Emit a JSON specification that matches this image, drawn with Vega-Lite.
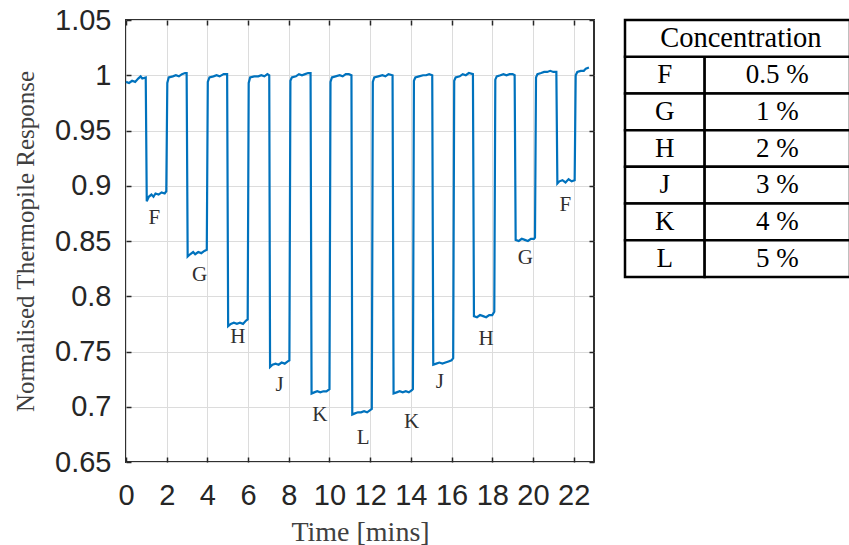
{
  "$schema": "https://vega.github.io/schema/vega-lite/v6.json",
  "background": "white",
  "padding": {"left": 12, "top": 5, "right": 0, "bottom": 0},
  "spacing": 27,
  "config": {"view": {"stroke": null}},
  "hconcat": [
    {
      "width": 468,
      "height": 442,
      "view": {"stroke": "#303030", "strokeWidth": 2},
      "layer": [
        {
          "data": {"values": [
            {"t": 0.00, "v": 0.994}, {"t": 0.15, "v": 0.993}, {"t": 0.30, "v": 0.995}, {"t": 0.45, "v": 0.994},
            {"t": 0.60, "v": 0.997}, {"t": 0.72, "v": 0.999}, {"t": 0.80, "v": 0.997}, {"t": 0.97, "v": 0.998},
            {"t": 1.02, "v": 0.886}, {"t": 1.12, "v": 0.890}, {"t": 1.25, "v": 0.892}, {"t": 1.35, "v": 0.890},
            {"t": 1.45, "v": 0.893}, {"t": 1.60, "v": 0.892}, {"t": 1.75, "v": 0.894}, {"t": 1.90, "v": 0.893},
            {"t": 1.98, "v": 0.895}, {"t": 2.03, "v": 0.993}, {"t": 2.10, "v": 0.998}, {"t": 2.30, "v": 0.999},
            {"t": 2.45, "v": 1.000}, {"t": 2.60, "v": 0.999}, {"t": 2.75, "v": 1.001}, {"t": 2.90, "v": 1.002},
            {"t": 2.98, "v": 1.002}, {"t": 3.03, "v": 0.836}, {"t": 3.15, "v": 0.838}, {"t": 3.30, "v": 0.840},
            {"t": 3.40, "v": 0.838}, {"t": 3.55, "v": 0.840}, {"t": 3.70, "v": 0.839}, {"t": 3.85, "v": 0.841},
            {"t": 3.97, "v": 0.842}, {"t": 4.02, "v": 0.994}, {"t": 4.10, "v": 0.998}, {"t": 4.30, "v": 0.999},
            {"t": 4.45, "v": 1.000}, {"t": 4.60, "v": 0.999}, {"t": 4.80, "v": 1.001}, {"t": 4.97, "v": 1.001},
            {"t": 5.02, "v": 0.773}, {"t": 5.15, "v": 0.775}, {"t": 5.30, "v": 0.776}, {"t": 5.45, "v": 0.775},
            {"t": 5.60, "v": 0.776}, {"t": 5.75, "v": 0.775}, {"t": 5.90, "v": 0.778}, {"t": 5.98, "v": 0.779},
            {"t": 6.03, "v": 0.993}, {"t": 6.10, "v": 0.998}, {"t": 6.30, "v": 0.999}, {"t": 6.50, "v": 0.999},
            {"t": 6.65, "v": 1.000}, {"t": 6.80, "v": 0.999}, {"t": 6.95, "v": 1.001}, {"t": 7.04, "v": 1.000},
            {"t": 7.08, "v": 0.736}, {"t": 7.20, "v": 0.738}, {"t": 7.35, "v": 0.739}, {"t": 7.50, "v": 0.738},
            {"t": 7.65, "v": 0.740}, {"t": 7.80, "v": 0.739}, {"t": 7.95, "v": 0.741}, {"t": 8.03, "v": 0.742},
            {"t": 8.08, "v": 0.995}, {"t": 8.15, "v": 0.998}, {"t": 8.35, "v": 0.999}, {"t": 8.50, "v": 1.001},
            {"t": 8.65, "v": 1.000}, {"t": 8.80, "v": 1.001}, {"t": 8.95, "v": 1.002}, {"t": 9.07, "v": 1.002},
            {"t": 9.12, "v": 0.712}, {"t": 9.25, "v": 0.713}, {"t": 9.40, "v": 0.714}, {"t": 9.55, "v": 0.713},
            {"t": 9.70, "v": 0.714}, {"t": 9.85, "v": 0.714}, {"t": 10.00, "v": 0.716}, {"t": 10.05, "v": 0.994},
            {"t": 10.12, "v": 0.998}, {"t": 10.30, "v": 0.999}, {"t": 10.50, "v": 1.000}, {"t": 10.65, "v": 0.999},
            {"t": 10.80, "v": 1.001}, {"t": 10.95, "v": 1.001}, {"t": 11.08, "v": 1.000}, {"t": 11.12, "v": 0.693},
            {"t": 11.25, "v": 0.694}, {"t": 11.40, "v": 0.695}, {"t": 11.55, "v": 0.695}, {"t": 11.70, "v": 0.696},
            {"t": 11.85, "v": 0.695}, {"t": 12.00, "v": 0.697}, {"t": 12.08, "v": 0.698}, {"t": 12.13, "v": 0.994},
            {"t": 12.20, "v": 0.998}, {"t": 12.40, "v": 0.999}, {"t": 12.60, "v": 1.000}, {"t": 12.75, "v": 0.999},
            {"t": 12.90, "v": 1.001}, {"t": 13.10, "v": 1.000}, {"t": 13.15, "v": 0.712}, {"t": 13.30, "v": 0.713},
            {"t": 13.45, "v": 0.714}, {"t": 13.60, "v": 0.713}, {"t": 13.75, "v": 0.714}, {"t": 13.90, "v": 0.713},
            {"t": 14.05, "v": 0.715}, {"t": 14.10, "v": 0.716}, {"t": 14.15, "v": 0.995}, {"t": 14.22, "v": 0.998},
            {"t": 14.40, "v": 0.999}, {"t": 14.60, "v": 1.000}, {"t": 14.75, "v": 1.000}, {"t": 14.90, "v": 1.001},
            {"t": 15.05, "v": 1.000}, {"t": 15.10, "v": 0.738}, {"t": 15.25, "v": 0.739}, {"t": 15.40, "v": 0.740},
            {"t": 15.55, "v": 0.739}, {"t": 15.70, "v": 0.740}, {"t": 15.85, "v": 0.741}, {"t": 16.00, "v": 0.742},
            {"t": 16.08, "v": 0.744}, {"t": 16.13, "v": 0.995}, {"t": 16.20, "v": 0.998}, {"t": 16.40, "v": 0.999},
            {"t": 16.55, "v": 1.001}, {"t": 16.70, "v": 1.000}, {"t": 16.85, "v": 1.002}, {"t": 17.05, "v": 1.001},
            {"t": 17.10, "v": 0.782}, {"t": 17.25, "v": 0.781}, {"t": 17.40, "v": 0.783}, {"t": 17.55, "v": 0.782},
            {"t": 17.70, "v": 0.781}, {"t": 17.85, "v": 0.783}, {"t": 18.00, "v": 0.783}, {"t": 18.10, "v": 0.786},
            {"t": 18.15, "v": 0.996}, {"t": 18.22, "v": 0.999}, {"t": 18.40, "v": 1.000}, {"t": 18.55, "v": 1.001},
            {"t": 18.70, "v": 1.000}, {"t": 18.85, "v": 1.001}, {"t": 19.00, "v": 1.001}, {"t": 19.10, "v": 1.000},
            {"t": 19.15, "v": 0.851}, {"t": 19.30, "v": 0.850}, {"t": 19.45, "v": 0.852}, {"t": 19.60, "v": 0.851},
            {"t": 19.75, "v": 0.850}, {"t": 19.90, "v": 0.852}, {"t": 20.05, "v": 0.852}, {"t": 20.10, "v": 0.853},
            {"t": 20.15, "v": 0.998}, {"t": 20.22, "v": 1.001}, {"t": 20.40, "v": 1.002}, {"t": 20.55, "v": 1.003},
            {"t": 20.70, "v": 1.003}, {"t": 20.85, "v": 1.004}, {"t": 21.00, "v": 1.003}, {"t": 21.15, "v": 1.003},
            {"t": 21.20, "v": 0.902}, {"t": 21.30, "v": 0.904}, {"t": 21.45, "v": 0.905}, {"t": 21.60, "v": 0.903},
            {"t": 21.75, "v": 0.906}, {"t": 21.90, "v": 0.904}, {"t": 22.05, "v": 0.905}, {"t": 22.10, "v": 1.000},
            {"t": 22.18, "v": 1.003}, {"t": 22.35, "v": 1.004}, {"t": 22.50, "v": 1.004}, {"t": 22.60, "v": 1.006},
            {"t": 22.75, "v": 1.007}
          ]},
          "mark": {"type": "line", "color": "#0072BD", "strokeWidth": 2.2},
          "encoding": {
            "x": {
              "field": "t", "type": "quantitative",
              "scale": {"domain": [0, 23], "nice": false, "zero": false},
              "axis": {
                "values": [0, 2, 4, 6, 8, 10, 12, 14, 16, 18, 20, 22],
                "title": "Time [mins]", "titleFont": "Liberation Serif", "titleFontSize": 28,
                "titleFontWeight": "normal", "titleColor": "#404040", "titlePadding": 8,
                "labelFont": "Liberation Sans", "labelFontSize": 29, "labelColor": "#262626",
                "labelPadding": 24, "labelOverlap": false, "labelFlush": false,
                "tickSize": -5, "tickColor": "#262626", "tickWidth": 1.5,
                "domain": false, "grid": true, "gridColor": "#dcdcdc", "gridWidth": 1
              }
            },
            "y": {
              "field": "v", "type": "quantitative",
              "scale": {"domain": [0.65, 1.05], "nice": false, "zero": false},
              "axis": {
                "values": [0.65, 0.7, 0.75, 0.8, 0.85, 0.9, 0.95, 1, 1.05],
                "format": ".2~f",
                "title": "Normalised Thermopile Response", "titleFont": "Liberation Serif", "titleFontSize": 25,
                "titleFontWeight": "normal", "titleColor": "#404040", "titlePadding": 16,
                "labelFont": "Liberation Sans", "labelFontSize": 29, "labelColor": "#262626",
                "labelPadding": 20, "labelOverlap": false, "labelFlush": false,
                "tickSize": -5, "tickColor": "#262626", "tickWidth": 1.5,
                "domain": false, "grid": true, "gridColor": "#dcdcdc", "gridWidth": 1
              }
            }
          }
        },
        {
          "data": {"values": [
            {"t": 1.39, "v": 0.871, "label": "F"},
            {"t": 3.61, "v": 0.819, "label": "G"},
            {"t": 5.50, "v": 0.763, "label": "H"},
            {"t": 7.55, "v": 0.720, "label": "J"},
            {"t": 9.52, "v": 0.6925, "label": "K"},
            {"t": 11.66, "v": 0.672, "label": "L"},
            {"t": 14.04, "v": 0.6865, "label": "K"},
            {"t": 15.43, "v": 0.7227, "label": "J"},
            {"t": 17.70, "v": 0.761, "label": "H"},
            {"t": 19.62, "v": 0.8343, "label": "G"},
            {"t": 21.59, "v": 0.8826, "label": "F"}
          ]},
          "mark": {"type": "text", "font": "Liberation Serif", "fontSize": 21, "color": "#303030", "baseline": "middle", "align": "center"},
          "encoding": {
            "x": {
              "field": "t", "type": "quantitative",
              "axis": {
                "orient": "top", "values": [0, 2, 4, 6, 8, 10, 12, 14, 16, 18, 20, 22],
                "labels": false, "grid": false, "domain": false, "title": null,
                "tickSize": -5, "tickColor": "#262626", "tickWidth": 1.5
              }
            },
            "y": {
              "field": "v", "type": "quantitative",
              "axis": {
                "orient": "right", "values": [0.65, 0.7, 0.75, 0.8, 0.85, 0.9, 0.95, 1, 1.05],
                "labels": false, "grid": false, "domain": false, "title": null,
                "tickSize": -5, "tickColor": "#262626", "tickWidth": 1.5
              }
            },
            "text": {"field": "label"}
          }
        }
      ],
      "resolve": {"axis": {"x": "independent", "y": "independent"}}
    },
    {
      "width": 225,
      "height": 257,
      "data": {"values": [
        {"code": "F", "conc": "0.5 %"},
        {"code": "G", "conc": "1 %"},
        {"code": "H", "conc": "2 %"},
        {"code": "J", "conc": "3 %"},
        {"code": "K", "conc": "4 %"},
        {"code": "L", "conc": "5 %"}
      ]},
      "layer": [
        {
          "mark": {"type": "rect", "fill": "white", "stroke": "black", "strokeWidth": 2.5},
          "encoding": {
            "x": {"datum": 0, "type": "quantitative", "scale": {"domain": [0, 1], "nice": false, "zero": false}, "axis": null},
            "x2": {"datum": 0.354},
            "y": {"field": "code", "type": "nominal", "scale": {"domain": ["Concentration", "F", "G", "H", "J", "K", "L"], "paddingInner": 0, "paddingOuter": 0}, "axis": null}
          }
        },
        {
          "mark": {"type": "rect", "fill": "white", "stroke": "black", "strokeWidth": 2.5},
          "encoding": {
            "x": {"datum": 0.354, "type": "quantitative"},
            "x2": {"datum": 1},
            "y": {"field": "code", "type": "nominal"}
          }
        },
        {
          "mark": {"type": "text", "font": "Liberation Serif", "fontSize": 27, "color": "black", "baseline": "middle"},
          "encoding": {
            "x": {"datum": 0.177, "type": "quantitative"},
            "y": {"field": "code", "type": "nominal"},
            "text": {"field": "code"}
          }
        },
        {
          "mark": {"type": "text", "font": "Liberation Serif", "fontSize": 27, "color": "black", "baseline": "middle"},
          "encoding": {
            "x": {"datum": 0.677, "type": "quantitative"},
            "y": {"field": "code", "type": "nominal"},
            "text": {"field": "conc"}
          }
        },
        {
          "data": {"values": [{"head": "Concentration"}]},
          "mark": {"type": "rect", "fill": "white", "stroke": "black", "strokeWidth": 2.5},
          "encoding": {
            "x": {"datum": 0, "type": "quantitative"},
            "x2": {"datum": 1},
            "y": {"field": "head", "type": "nominal"}
          }
        },
        {
          "data": {"values": [{"head": "Concentration"}]},
          "mark": {"type": "text", "font": "Liberation Serif", "fontSize": 28.5, "color": "black", "baseline": "middle"},
          "encoding": {
            "x": {"datum": 0.515, "type": "quantitative"},
            "y": {"field": "head", "type": "nominal"},
            "text": {"field": "head"}
          }
        }
      ]
    }
  ]
}
